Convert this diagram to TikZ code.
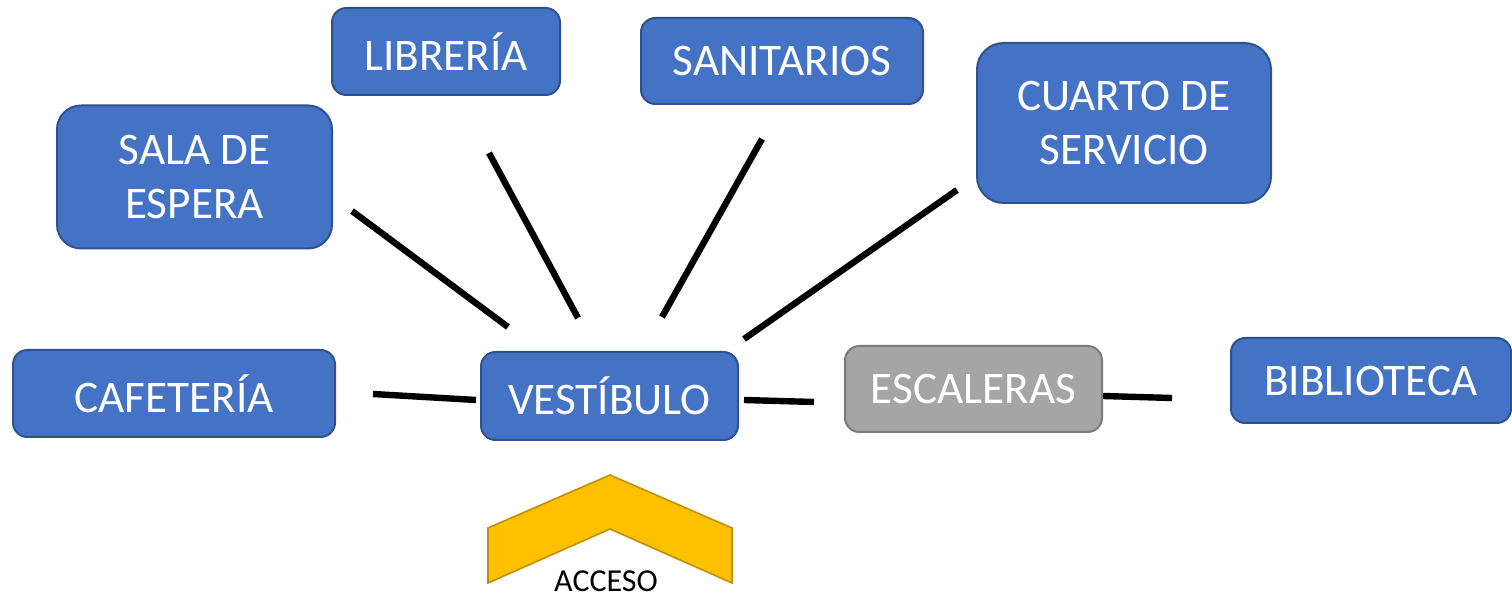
\documentclass[tikz,border=0pt]{standalone}
\usepackage{fontspec}
\setmainfont{Carlito}
\definecolor{boxblue}{HTML}{4472C4}
\definecolor{boxblueline}{HTML}{2F528F}
\definecolor{boxgray}{HTML}{A5A5A5}
\definecolor{boxgrayline}{HTML}{7B7B7B}
\definecolor{chevfill}{HTML}{FFC000}
\definecolor{chevline}{HTML}{BF9000}
\begin{document}
\begin{tikzpicture}[x=0.5pt,y=-0.5pt,
  room/.style={draw=boxblueline, fill=boxblue, line width=1pt, text=white, inner sep=0pt,
    align=center, font=\fontsize{22.6}{27}\selectfont},
  grayroom/.style={room, draw=boxgrayline, fill=boxgray},
  link/.style={line width=3.2pt, draw=black}]
\path[use as bounding box] (0,0) rectangle (1512,598);

\node[room, minimum width=114pt, minimum height=43.5pt, rounded corners=7.2pt] (lib) at (446,51.5) {LIBRERÍA};
\node[room, minimum width=141pt, minimum height=43pt, rounded corners=7.2pt] (san) at (782,61) {SANITARIOS};
\node[room, minimum width=137.5pt, minimum height=71.5pt, rounded corners=12pt] (sala) at (194.5,177) {SALA DE\\ESPERA};
\node[room, minimum width=147pt, minimum height=80pt, rounded corners=13.3pt] (cuarto) at (1124,123) {CUARTO DE\\SERVICIO};
\node[room, minimum width=161pt, minimum height=43.5pt, rounded corners=7.2pt] (caf) at (174,393.5) {CAFETERÍA};
\node[room, minimum width=128.5pt, minimum height=44pt, rounded corners=7.3pt] (ves) at (609.5,396) {VESTÍBULO};
\node[grayroom, minimum width=128.5pt, minimum height=43pt, rounded corners=7.2pt] (esc) at (973.5,389) {ESCALERAS};
\node[room, minimum width=140pt, minimum height=42.5pt, rounded corners=7.1pt] (bib) at (1371,380.5) {BIBLIOTECA};

% connector ends (free-floating)
\coordinate (salaA) at (352,211); \coordinate (salaB) at (508,327);
\coordinate (libA) at (489,153);  \coordinate (libB) at (578,318);
\coordinate (sanA) at (762,139);  \coordinate (sanB) at (662,317);
\coordinate (cuaA) at (957,190);  \coordinate (cuaB) at (744,339);
\coordinate (cafA) at (373,394);  \coordinate (cafB) at (476,400);
\coordinate (escA) at (744,400);  \coordinate (escB) at (814,402);
\coordinate (bibA) at (1103,396); \coordinate (bibB) at (1172,398);

\draw[link] (salaA) -- (salaB);
\draw[link] (libA) -- (libB);
\draw[link] (sanA) -- (sanB);
\draw[link] (cuaA) -- (cuaB);
\draw[link] (cafA) -- (cafB);
\draw[link] (escA) -- (escB);
\draw[link] (bibA) -- (bibB);

% access chevron
\draw[fill=chevfill, draw=chevline, line width=0.8pt, line join=miter]
  (610,475) -- (732,528) -- (732,583) -- (610,529) -- (488,583) -- (488,528) -- cycle;
\node[font=\fontsize{16}{18}\selectfont, inner sep=0pt, text=black] (acc) at (606,581) {ACCESO};
\end{tikzpicture}
\end{document}
